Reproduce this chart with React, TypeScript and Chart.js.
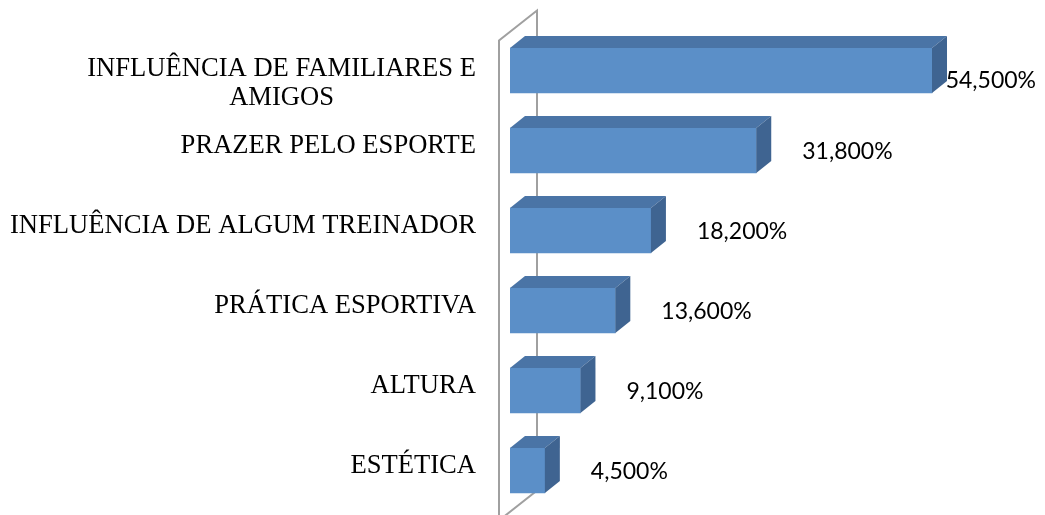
import React, { useEffect, useRef } from "react";
import { Chart, registerables } from "chart.js";

Chart.register(...registerables);

const categories: string[][] = [
  ["INFLUÊNCIA DE FAMILIARES E", "AMIGOS"],
  ["PRAZER PELO ESPORTE"],
  ["INFLUÊNCIA DE ALGUM TREINADOR"],
  ["PRÁTICA ESPORTIVA"],
  ["ALTURA"],
  ["ESTÉTICA"],
];
const values: number[] = [54.5, 31.8, 18.2, 13.6, 9.1, 4.5];
const valueLabels: string[] = values.map((v) => v.toFixed(3).replace(".", ",") + "%");

const FRONT = "#5b8fc8";
const TOP = "#4a74a6";
const SIDE = "#3f6491";
const DEPTH_X = 15;
const DEPTH_Y = 12;

const depthPlugin = {
  id: "depth3d",
  beforeDatasetsDraw(chart: any) {
    const { ctx, chartArea } = chart;
    const x0 = chart.scales.x.getPixelForValue(0);
    const fx = x0 - 11;
    const bx = x0 + 27;
    const ftop = chartArea.top + 10;
    const btop = ftop - 30;
    const bbot = chartArea.bottom - 20;
    const fbot = bbot + 30;
    ctx.save();
    ctx.strokeStyle = "#a0a0a0";
    ctx.lineWidth = 2;
    ctx.lineJoin = "miter";
    ctx.beginPath();
    ctx.moveTo(fx, fbot);
    ctx.lineTo(fx, ftop);
    ctx.lineTo(bx, btop);
    ctx.lineTo(bx, bbot);
    ctx.lineTo(fx, fbot);
    ctx.stroke();
    ctx.restore();
  },
  afterDatasetsDraw(chart: any) {
    const { ctx } = chart;
    const meta = chart.getDatasetMeta(0);
    ctx.save();
    meta.data.forEach((el: any, i: number) => {
      const { x, y, base, height } = el.getProps(["x", "y", "base", "height"], true);
      const yt = y - height / 2;
      const yb = y + height / 2;
      // top face
      ctx.fillStyle = TOP;
      ctx.beginPath();
      ctx.moveTo(base, yt);
      ctx.lineTo(base + DEPTH_X, yt - DEPTH_Y);
      ctx.lineTo(x + DEPTH_X, yt - DEPTH_Y);
      ctx.lineTo(x, yt);
      ctx.closePath();
      ctx.fill();
      // side face
      ctx.fillStyle = SIDE;
      ctx.beginPath();
      ctx.moveTo(x, yt);
      ctx.lineTo(x + DEPTH_X, yt - DEPTH_Y);
      ctx.lineTo(x + DEPTH_X, yb - DEPTH_Y);
      ctx.lineTo(x, yb);
      ctx.closePath();
      ctx.fill();

      // value label
      ctx.font = "23px Lato";
      ctx.fillStyle = "#000000";
      ctx.textBaseline = "middle";
      ctx.textAlign = "left";
      const txt = valueLabels[i];
      const w = ctx.measureText(txt).width;
      let lx = x + 46;
      let ly = y + 1;
      const maxRight = chart.width - 9;
      if (lx + w > maxRight) {
        lx = maxRight - w;
        ly = y + 10;
      }
      ctx.fillText(txt, lx, ly);
    });
    ctx.restore();
  },
  afterDraw(chart: any) {
    const { ctx } = chart;
    const yScale = chart.scales.y;
    ctx.save();
    ctx.font = "26.6px 'Liberation Serif'";
    ctx.fillStyle = "#000000";
    ctx.textBaseline = "middle";
    categories.forEach((lines, i) => {
      const cy = yScale.getPixelForValue(i);
      if (lines.length === 1) {
        ctx.textAlign = "right";
        ctx.fillText(lines[0], 476, cy - 4);
      } else {
        const widths = lines.map((l) => ctx.measureText(l).width);
        const maxW = Math.max(...widths);
        const center = 476 - maxW / 2;
        ctx.textAlign = "center";
        lines.forEach((l, j) => {
          ctx.fillText(l, center, cy - 1 + j * 29);
        });
      }
    });
    ctx.restore();
  },
};

export default function App() {
  const ref = useRef<HTMLCanvasElement | null>(null);
  useEffect(() => {
    if (!ref.current) return;
    const chart = new Chart(ref.current, {
      type: "bar",
      data: {
        labels: categories.map((c) => c.join(" ")),
        datasets: [
          {
            data: values,
            backgroundColor: FRONT,
            borderWidth: 0,
            barThickness: 45,
          },
        ],
      },
      options: {
        indexAxis: "y",
        responsive: false,
        animation: false,
        layout: { padding: { left: 510, right: 70.4, top: 30.5, bottom: 4.5 } },
        plugins: { legend: { display: false }, tooltip: { enabled: false } },
        scales: {
          x: { type: "linear", min: 0, max: 60, display: false },
          y: { type: "category", display: false },
        },
      },
      plugins: [depthPlugin],
    });
    return () => chart.destroy();
  }, []);
  return (
    <div style={{ position: "absolute", left: 0, top: 0, width: 1045, height: 515, background: "#ffffff" }}>
      <canvas ref={ref} width={1045} height={515} />
    </div>
  );
}
